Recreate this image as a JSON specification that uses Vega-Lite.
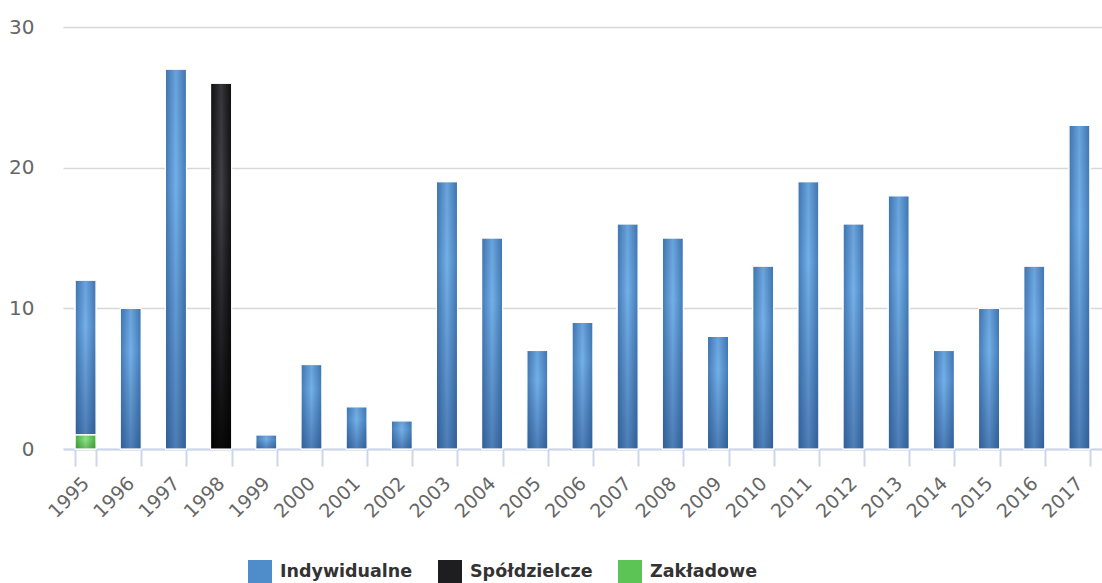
{
  "$schema": "https://vega.github.io/schema/vega-lite/v6.json",
  "width": 1039,
  "height": 422,
  "autosize": {"type": "none"},
  "padding": {"left": 63, "top": 27, "right": 0, "bottom": 134},
  "config": {"view": {"stroke": null}, "font": "DejaVu Sans"},
  "data": {"values": [
    {"rok": "1995", "typ": "Indywidualne", "ord": 1, "liczba": 11},
    {"rok": "1995", "typ": "Zakładowe", "ord": 0, "liczba": 1},
    {"rok": "1996", "typ": "Indywidualne", "ord": 1, "liczba": 10},
    {"rok": "1997", "typ": "Indywidualne", "ord": 1, "liczba": 27},
    {"rok": "1998", "typ": "Spółdzielcze", "ord": 1, "liczba": 26},
    {"rok": "1999", "typ": "Indywidualne", "ord": 1, "liczba": 1},
    {"rok": "2000", "typ": "Indywidualne", "ord": 1, "liczba": 6},
    {"rok": "2001", "typ": "Indywidualne", "ord": 1, "liczba": 3},
    {"rok": "2002", "typ": "Indywidualne", "ord": 1, "liczba": 2},
    {"rok": "2003", "typ": "Indywidualne", "ord": 1, "liczba": 19},
    {"rok": "2004", "typ": "Indywidualne", "ord": 1, "liczba": 15},
    {"rok": "2005", "typ": "Indywidualne", "ord": 1, "liczba": 7},
    {"rok": "2006", "typ": "Indywidualne", "ord": 1, "liczba": 9},
    {"rok": "2007", "typ": "Indywidualne", "ord": 1, "liczba": 16},
    {"rok": "2008", "typ": "Indywidualne", "ord": 1, "liczba": 15},
    {"rok": "2009", "typ": "Indywidualne", "ord": 1, "liczba": 8},
    {"rok": "2010", "typ": "Indywidualne", "ord": 1, "liczba": 13},
    {"rok": "2011", "typ": "Indywidualne", "ord": 1, "liczba": 19},
    {"rok": "2012", "typ": "Indywidualne", "ord": 1, "liczba": 16},
    {"rok": "2013", "typ": "Indywidualne", "ord": 1, "liczba": 18},
    {"rok": "2014", "typ": "Indywidualne", "ord": 1, "liczba": 7},
    {"rok": "2015", "typ": "Indywidualne", "ord": 1, "liczba": 10},
    {"rok": "2016", "typ": "Indywidualne", "ord": 1, "liczba": 13},
    {"rok": "2017", "typ": "Indywidualne", "ord": 1, "liczba": 23}
  ]},
  "transform": [
    {"stack": "liczba", "groupby": ["rok"], "sort": [{"field": "ord", "order": "ascending"}], "as": ["y0", "y1"]}
  ],
  "encoding": {
    "x": {
      "field": "rok", "type": "ordinal", "title": null,
      "scale": {"paddingInner": 0.535, "paddingOuter": 0.2675},
      "axis": {
        "labelAngle": -45, "labelAlign": "right", "labelBaseline": "middle",
        "labelFontSize": 19, "labelColor": "#666666", "labelPadding": 14,
        "domainColor": "#ccd6eb", "domainWidth": 2, "tickColor": "#ccd6eb", "tickWidth": 2,
        "tickSize": 17, "tickBand": "extent"
      }
    },
    "y": {
      "field": "y0", "type": "quantitative", "title": null,
      "scale": {"domain": [0, 30]},
      "axis": {
        "values": [0, 10, 20, 30], "domain": false, "ticks": false,
        "labelFontSize": 20, "labelColor": "#666666", "labelPadding": 29,
        "gridColor": "#d8d8d8", "gridWidth": 1.5
      }
    },
    "y2": {"field": "y1"}
  },
  "layer": [
    {
      "mark": {"type": "bar", "stroke": "white", "strokeWidth": 1},
      "encoding": {
        "color": {
          "field": "typ", "type": "nominal", "title": null,
          "scale": {
            "domain": ["Indywidualne", "Spółdzielcze", "Zakładowe"],
            "range": ["#4f8dca", "#1e1e20", "#5cc455"]
          },
          "legend": {
            "orient": "none", "direction": "horizontal", "legendX": 185, "legendY": 533,
            "symbolType": "square", "symbolSize": 576, "symbolStrokeWidth": 0,
            "labelFontSize": 17.5, "labelFontWeight": "bold", "labelColor": "#333333",
            "columnPadding": 25, "labelOffset": 8
          }
        }
      }
    },
    {
      "transform": [{"filter": "datum.typ === 'Indywidualne'"}],
      "mark": {"type": "bar", "stroke": "white", "strokeWidth": 1,
        "color": {"gradient": "linear", "x1": 0, "y1": 0, "x2": 1, "y2": 0,
          "stops": [{"offset": 0, "color": "#4279b5"}, {"offset": 0.5, "color": "#74b0e8"}, {"offset": 1, "color": "#4279b5"}]}}
    },
    {
      "transform": [{"filter": "datum.typ === 'Indywidualne'"}],
      "mark": {"type": "bar", "stroke": "white", "strokeWidth": 1,
        "color": {"gradient": "linear", "x1": 0, "y1": 0, "x2": 0, "y2": 1,
          "stops": [{"offset": 0, "color": "rgba(15,45,100,0.1)"}, {"offset": 0.3, "color": "rgba(15,45,100,0)"}, {"offset": 1, "color": "rgba(15,45,100,0.38)"}]}}
    },
    {
      "transform": [{"filter": "datum.typ === 'Spółdzielcze'"}],
      "mark": {"type": "bar", "stroke": "white", "strokeWidth": 1,
        "color": {"gradient": "linear", "x1": 0, "y1": 0, "x2": 1, "y2": 0,
          "stops": [{"offset": 0, "color": "#111113"}, {"offset": 0.5, "color": "#404045"}, {"offset": 1, "color": "#111113"}]}}
    },
    {
      "transform": [{"filter": "datum.typ === 'Spółdzielcze'"}],
      "mark": {"type": "bar", "stroke": "white", "strokeWidth": 1,
        "color": {"gradient": "linear", "x1": 0, "y1": 0, "x2": 0, "y2": 1,
          "stops": [{"offset": 0, "color": "rgba(0,0,0,0.15)"}, {"offset": 0.3, "color": "rgba(0,0,0,0)"}, {"offset": 1, "color": "rgba(0,0,0,0.85)"}]}}
    },
    {
      "transform": [{"filter": "datum.typ === 'Zakładowe'"}],
      "mark": {"type": "bar", "stroke": "white", "strokeWidth": 1,
        "color": {"gradient": "linear", "x1": 0, "y1": 0, "x2": 1, "y2": 0,
          "stops": [{"offset": 0, "color": "#47ab3d"}, {"offset": 0.5, "color": "#8ce386"}, {"offset": 1, "color": "#47ab3d"}]}}
    },
    {
      "transform": [{"filter": "datum.typ === 'Zakładowe'"}],
      "mark": {"type": "bar", "stroke": "white", "strokeWidth": 1,
        "color": {"gradient": "linear", "x1": 0, "y1": 0, "x2": 0, "y2": 1,
          "stops": [{"offset": 0, "color": "rgba(30,90,20,0.1)"}, {"offset": 0.3, "color": "rgba(30,90,20,0)"}, {"offset": 1, "color": "rgba(30,90,20,0.3)"}]}}
    }
  ]
}
